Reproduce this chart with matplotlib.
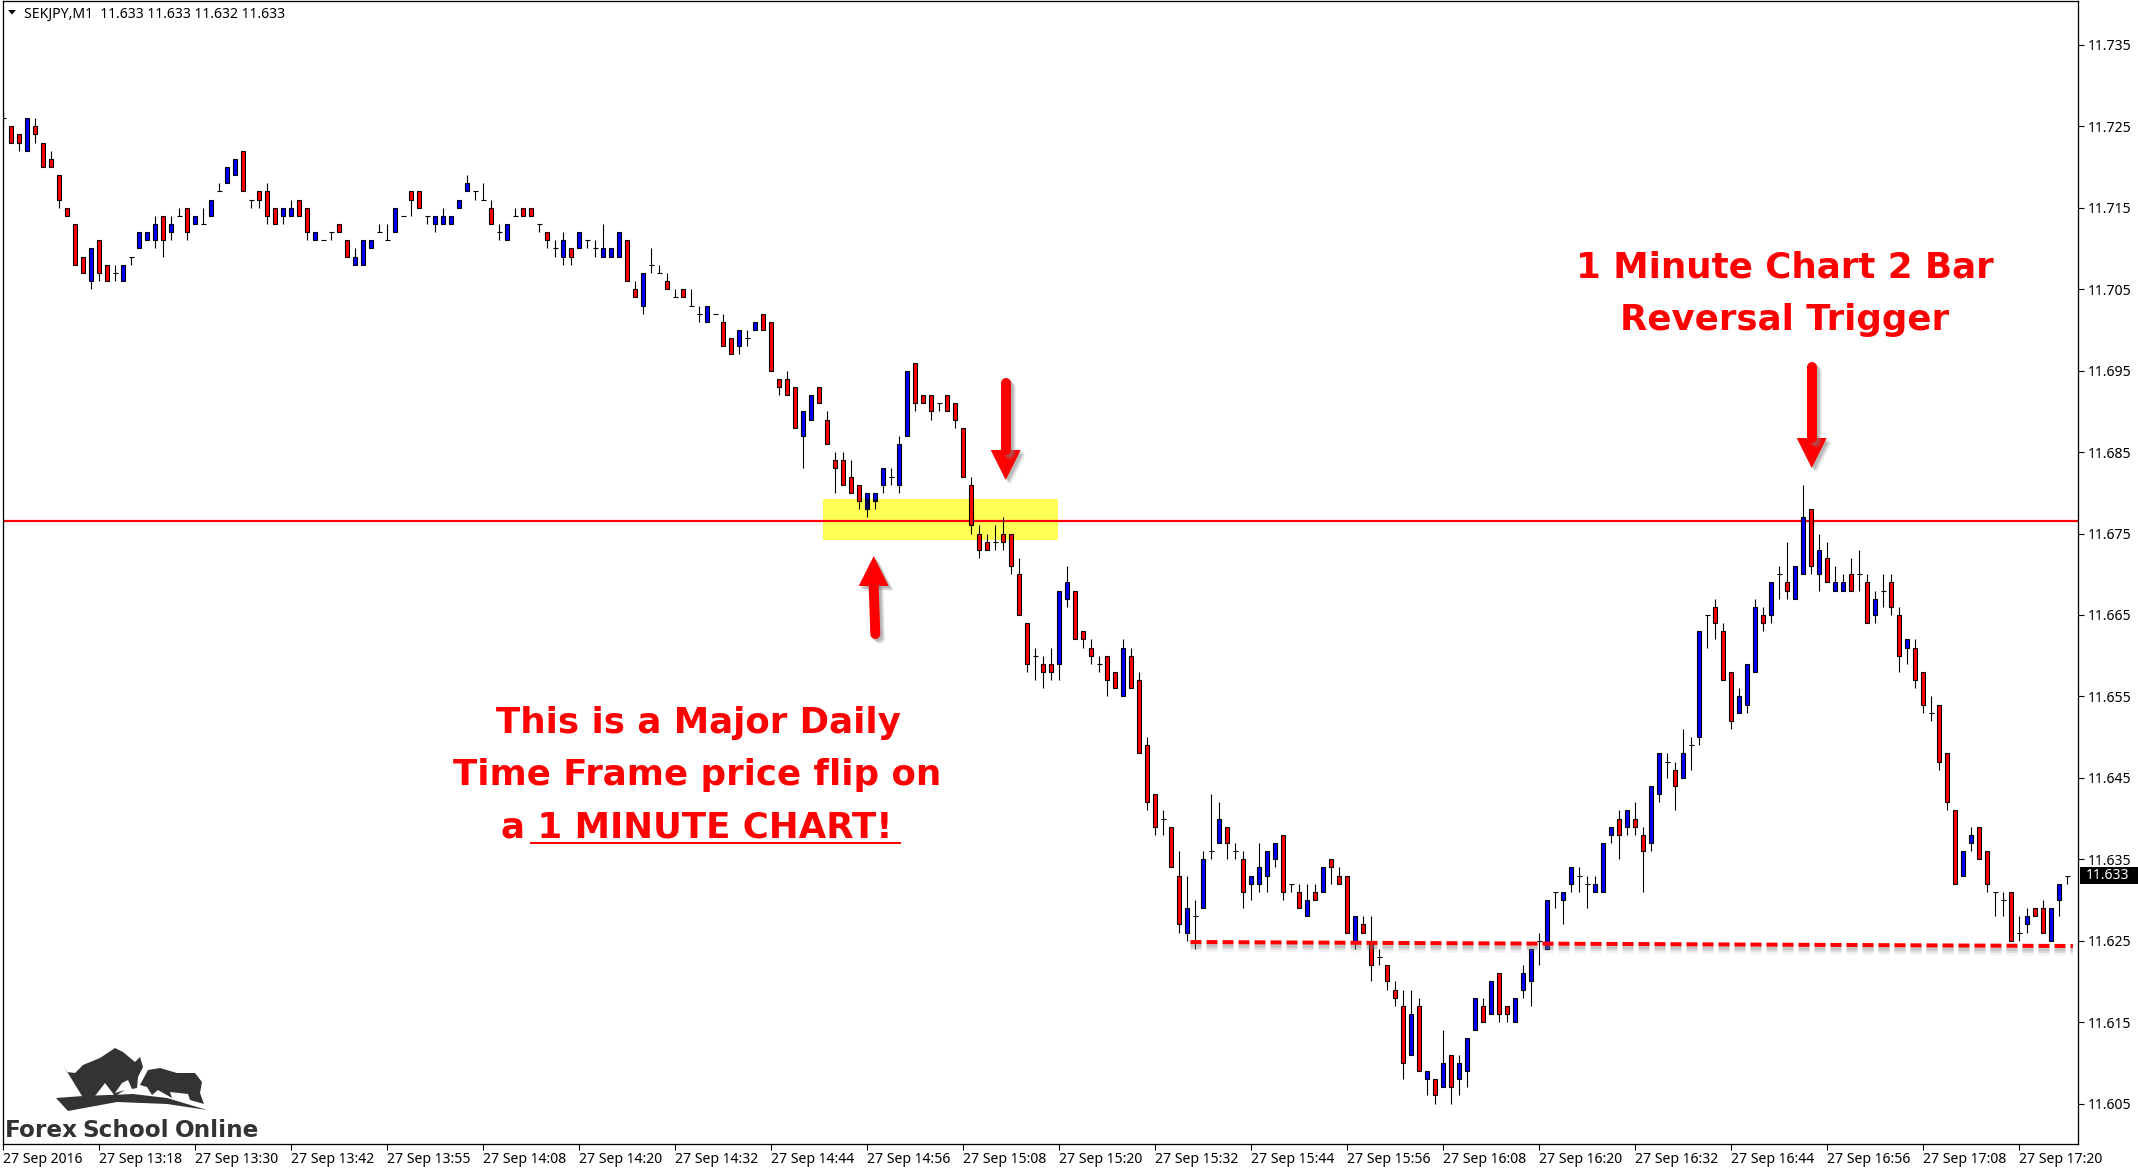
import numpy as np
import matplotlib
matplotlib.use('Agg')
import matplotlib.pyplot as plt
from matplotlib.patches import Polygon, Rectangle

# prices are kept as points above 11.600 (1 point = 0.001), one value per M1 bar
opens = [126,125,124,122,125,123,121,119,115,113,109,106,111,108,107,106,109,110,111,111,
         114,112,114,115,113,113,114,117,118,119,122,116,117,117,115,114,114,116,115,111,
         111,112,113,111,108,108,110,112,111,112,114,117,117,114,113,113,113,115,117,117,
         116,115,112,111,114,115,115,113,112,110,109,110,110,111,110,109,109,109,111,105,
         103,108,107,106,104,105,103,102,101,102,101,99,98,99,100,102,101,94,94,93,
         87,89,93,89,84,84,82,81,78,79,81,82,81,87,96,92,92,91,92,91,
         88,81,75,74,74,75,75,70,64,60,59,59,59,67,68,63,61,59,60,58,
         55,60,57,49,43,40,39,33,26,28,29,36,37,39,36,35,32,32,33,35,
         38,32,31,28,31,31,35,33,33,25,27,25,23,22,19,17,11,17,8,8,
         7,11,8,9,14,17,16,21,17,15,19,20,25,24,31,30,32,33,32,31,
         31,38,40,39,40,38,37,43,47,46,45,49,50,65,66,63,58,53,54,58,
         65,65,70,69,67,70,78,70,72,68,68,70,70,69,65,68,69,65,61,61,
         58,53,54,48,41,33,37,39,36,31,30,31,26,27,29,29,25,30,33]
highs = [127,125,124,126,126,123,122,119,115,113,109,110,111,108,108,108,109,112,112,114,
         114,114,115,115,114,115,116,118,120,121,122,116,117,118,115,115,116,116,115,112,
         111,112,113,111,110,111,111,113,113,115,114,117,117,114,114,115,114,116,119,117,
         118,116,113,113,115,115,115,113,112,111,112,110,112,111,111,113,110,112,111,106,
         107,110,108,107,105,105,105,103,103,102,102,99,100,100,101,102,101,94,95,93,
         90,92,93,90,85,85,84,81,80,80,83,83,87,95,96,92,92,91,92,91,
         88,82,76,75,76,77,75,72,64,61,60,61,68,71,68,63,62,60,60,58,
         62,61,58,50,43,41,39,36,33,30,36,43,42,39,37,36,33,37,36,37,
         38,32,32,32,32,34,35,34,33,28,28,28,24,22,20,19,19,18,9,8,
         14,11,11,13,18,18,20,21,17,18,22,24,26,30,31,31,34,34,33,33,
         37,39,41,41,42,39,44,48,48,47,51,50,63,65,67,64,58,56,59,67,
         66,69,71,74,71,81,78,75,74,71,70,72,73,70,68,70,70,66,62,62,
         58,55,54,48,41,36,39,39,36,31,31,31,28,29,29,30,29,32,33]
lows = [125,123,122,122,123,120,120,115,114,108,107,105,106,106,106,106,108,110,111,110,
        109,111,114,111,113,113,114,117,118,119,117,115,115,113,113,113,114,114,111,111,
        111,111,112,109,108,108,110,112,111,112,114,114,115,113,112,113,113,115,117,116,
        116,113,111,111,114,114,114,112,110,109,108,108,110,110,109,109,109,109,106,104,
        102,107,107,105,104,104,103,101,101,102,98,97,97,98,100,100,95,92,92,88,
        83,89,91,86,80,81,80,78,77,78,80,81,80,87,90,91,89,90,90,88,
        82,75,72,73,73,73,70,65,58,57,56,57,57,66,62,61,59,58,55,56,
        55,56,48,41,38,38,34,26,25,24,29,35,37,35,35,29,30,31,31,34,
        30,31,29,28,30,31,32,32,26,24,26,20,22,19,17,8,11,9,6,5,
        7,5,6,7,14,15,16,15,15,15,18,17,22,24,29,27,31,31,29,31,
        31,37,35,38,38,31,36,42,45,41,45,46,49,61,62,57,51,53,53,58,
        63,64,67,67,67,70,70,68,69,68,68,68,68,64,64,66,65,58,59,56,
        53,52,46,41,32,33,36,35,31,28,28,25,25,26,28,26,25,28,32]
closes = [126,123,123,126,124,120,120,116,114,108,107,110,107,106,107,108,109,112,112,113,
          111,113,114,112,114,113,116,117,120,121,117,116,116,114,113,115,115,114,112,112,
          111,112,112,109,109,111,111,112,111,115,114,116,115,114,114,114,114,116,118,117,
          116,113,112,113,114,114,114,113,111,110,111,109,112,111,110,110,110,112,106,104,
          107,108,107,105,104,104,103,102,103,102,98,97,100,99,101,100,95,93,92,88,
          90,92,91,86,83,81,80,79,80,80,83,82,86,95,91,91,90,91,90,89,
          82,76,73,73,74,74,71,65,59,60,58,58,68,69,62,62,60,59,57,56,
          61,56,48,42,39,40,34,27,29,28,35,36,40,37,36,31,33,34,36,37,
          31,32,29,30,30,34,34,32,26,28,26,22,23,20,18,10,16,9,9,6,
          10,7,10,13,18,15,20,16,16,18,21,24,25,30,31,31,34,33,32,32,
          37,39,38,41,39,36,44,48,47,44,48,49,63,65,64,57,52,55,59,66,
          64,69,70,68,71,77,71,73,69,69,69,68,70,64,67,68,66,60,62,57,
          54,53,47,42,32,36,38,35,32,31,30,25,26,28,28,26,29,32,33]

time_labels = ['27 Sep 2016', '27 Sep 13:18', '27 Sep 13:30', '27 Sep 13:42', '27 Sep 13:55',
               '27 Sep 14:08', '27 Sep 14:20', '27 Sep 14:32', '27 Sep 14:44', '27 Sep 14:56',
               '27 Sep 15:08', '27 Sep 15:20', '27 Sep 15:32', '27 Sep 15:44', '27 Sep 15:56',
               '27 Sep 16:08', '27 Sep 16:20', '27 Sep 16:32', '27 Sep 16:44', '27 Sep 16:56',
               '27 Sep 17:08', '27 Sep 17:20']
price_ticks = [11.605, 11.615, 11.625, 11.635, 11.645, 11.655, 11.665,
               11.675, 11.685, 11.695, 11.705, 11.715, 11.725, 11.735]
flip_level = 11.6765
zone_bars = (102.46, 131.8)
zone_prices = (11.67424, 11.67924)
support_bars = (148.4, 258.7)
support_prices = (11.62484, 11.62435)

W, H = 2138, 1171
BLUE, RED = '#0000ff', '#ff0000'
PX = 0.72  # one pixel in points at dpi=100
plt.rcParams['font.family'] = ['Noto Sans', 'DejaVu Sans']

o = 11.6 + np.array(opens) / 1000
h = 11.6 + np.array(highs) / 1000
l = 11.6 + np.array(lows) / 1000
c = 11.6 + np.array(closes) / 1000
x = np.arange(len(o))

fig = plt.figure(figsize=(W / 100, H / 100), dpi=100, facecolor='white')
ax = fig.add_axes([2.5 / W, (H - 1144) / H, 2075.5 / W, 1143 / H])
ax.set_xlim(-0.1, 259.34)
ax.set_ylim(11.60004, 11.74039)

# flip zone and level sit behind the candles
zone = Rectangle((zone_bars[0], zone_prices[0]), zone_bars[1] - zone_bars[0],
                 zone_prices[1] - zone_prices[0], facecolor='#ffff55', edgecolor='none', zorder=1)
ax.add_patch(zone)
ax.axhline(flip_level, color=RED, lw=2.2 * PX, zorder=2)

ax.vlines(x, l, h, color='black', lw=1.1 * PX, zorder=3)
flat = o == c
ax.hlines(o[flat], x[flat] - 0.31, x[flat] + 0.31, color='black', lw=1.1 * PX, zorder=3)
up = c > o
down = c < o
ax.bar(x[up], (c - o)[up], bottom=o[up], width=0.47, color=BLUE, edgecolor='black', lw=1.1 * PX, zorder=4)
ax.bar(x[down], (o - c)[down], bottom=c[down], width=0.47, color=RED, edgecolor='black', lw=1.1 * PX, zorder=4)

# the zone was laid over the chart in the original, so blue goes dark inside it
dark = ax.bar(x[up], (c - o)[up], bottom=o[up], width=0.47, color='#000055', edgecolor='none', zorder=5)
for bar in dark:
    bar.set_clip_path(zone)

ax.yaxis.tick_right()
ax.set_yticks(price_ticks)
ax.set_yticklabels(['%.3f' % t for t in price_ticks])
ax.set_xticks(x[::12])
ax.set_xticklabels(time_labels, ha='left')
ax.tick_params(axis='both', direction='out', length=4, width=1.1 * PX, labelsize=10.1, color='black')
ax.tick_params(axis='x', pad=2)
ax.tick_params(axis='y', pad=3)
for spine in ax.spines.values():
    spine.set_linewidth(1.3 * PX)

# thick dashed support with its soft shadow
for off, alpha, lw in [(0.00075, 0.10, 7), (0.00055, 0.18, 5.5), (0.0004, 0.25, 4)]:
    ax.plot(support_bars, [support_prices[0] - off, support_prices[1] - off], color='gray', alpha=alpha,
            lw=lw * PX, ls=(0, (11 / lw, 5 / lw)), dash_capstyle='butt', zorder=6)
ax.plot(support_bars, support_prices, color=RED, lw=4 * PX, ls=(0, (2.75, 1.25)),
        dash_capstyle='butt', zorder=7)

# everything drawn by hand on the screenshot goes on a pixel overlay
over = fig.add_axes([0, 0, 1, 1], facecolor='none')
over.set_xlim(0, W)
over.set_ylim(H, 0)
over.axis('off')


def draw_arrow(x_tail, y_tail, x_tip, y_tip):
    sign = 1 if y_tip > y_tail else -1
    y_neck = y_tip - sign * 30
    head = [(x_tip - 15, y_neck), (x_tip + 15, y_neck), (x_tip, y_tip)]
    for off, alpha in [(5, 0.12), (4, 0.16), (3, 0.22), (2, 0.25)]:
        over.plot([x_tail + off, x_tip + off], [y_tail + off, y_neck + off], color='gray', alpha=alpha,
                  lw=10 * PX, solid_capstyle='round')
        over.add_patch(Polygon([(a + off, b + off) for a, b in head], facecolor='gray',
                               edgecolor='none', alpha=alpha))
    over.plot([x_tail, x_tip], [y_tail, y_neck], color=RED, lw=10 * PX, solid_capstyle='round')
    over.add_patch(Polygon(head, facecolor=RED, edgecolor='none'))


draw_arrow(1005.7, 383, 1005.7, 480)
draw_arrow(1811.7, 367, 1811.7, 468)
draw_arrow(875.3, 634, 873.7, 556)

notes = [('1 Minute Chart 2 Bar', 1785, 278), ('Reversal Trigger', 1785, 330),
         ('This is a Major Daily', 698, 733), ('Time Frame price flip on', 697, 785),
         ('a 1 MINUTE CHART!', 697, 837)]
for text, xc, yb in notes:
    over.text(xc, yb, text, color=RED, fontsize=25.7, fontweight='bold', family='DejaVu Sans',
              ha='center', va='baseline')
over.plot([530.5, 899.7], [843, 843], color=RED, lw=2 * PX)

# header line
over.add_patch(Polygon([(8, 10), (16, 10), (12, 14.5)], facecolor='black', edgecolor='none'))
over.text(24, 14, 'SEKJPY,M1  11.633 11.633 11.632 11.633', fontsize=10.1, va='center', color='black')

# current price tag
over.add_patch(Rectangle((2080, 867), 58, 17, facecolor='black', edgecolor='none'))
over.text(2086, 875.5, '%.3f' % c[-1], color='white', fontsize=10.1, va='center')

# logo silhouette and wordmark, coordinates are px on the screenshot
bull = [(63, 1065), (67, 1072), (75, 1073), (83, 1065), (100, 1058), (115, 1048), (123, 1052),
        (135, 1062), (140, 1057), (143, 1067), (138, 1077), (137, 1088), (132, 1089), (128, 1080),
        (122, 1083), (115, 1093), (125, 1090), (115, 1096), (105, 1083), (95, 1096), (82, 1096)]
bear = [(140, 1085), (148, 1070), (160, 1068), (177, 1073), (195, 1073), (202, 1082), (200, 1093),
        (204, 1104), (190, 1100), (188, 1094), (170, 1092), (172, 1098), (158, 1090), (152, 1095), (147, 1087)]
ground = [(56, 1098), (83, 1096), (133, 1094), (167, 1098), (207, 1110), (167, 1104), (117, 1102), (68, 1111)]
for shape in (bull, bear, ground):
    over.add_patch(Polygon(shape, facecolor='#333333', edgecolor='none'))
for word, xw in [('Forex', 5), ('School', 82), ('Online', 175)]:
    over.text(xw, 1137, word, fontsize=16.7, fontweight='bold', family='DejaVu Sans', color='#333333', va='baseline')

fig.savefig('out.png', dpi=100)
